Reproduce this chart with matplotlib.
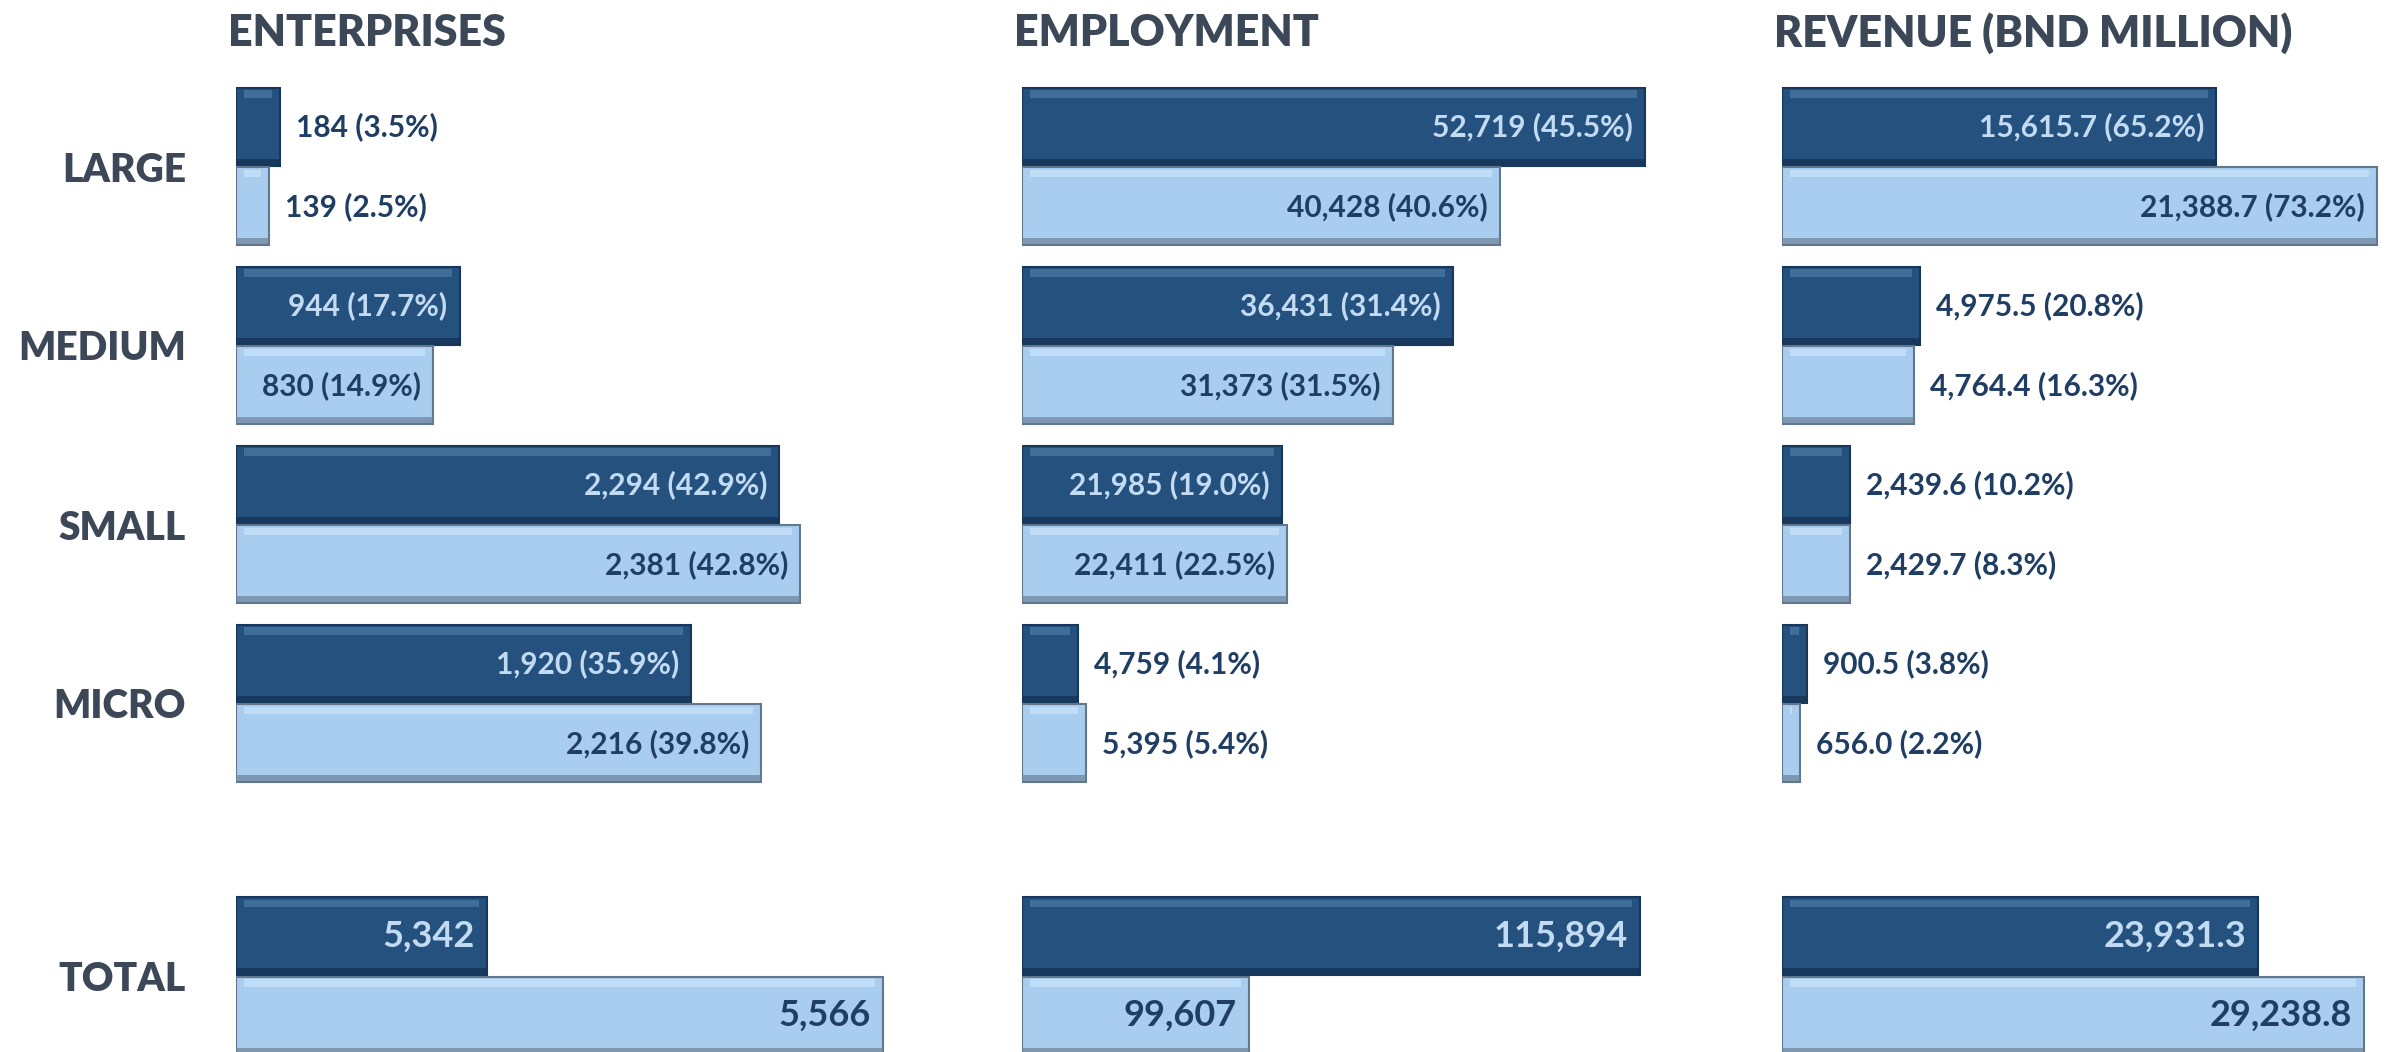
import matplotlib.pyplot as plt

plt.switch_backend('AGG')
plt.rcParams['font.family'] = ['Lato', 'DejaVu Sans']

# ---- data ----
categories = ['LARGE', 'MEDIUM', 'SMALL', 'MICRO']
panel_titles = ['ENTERPRISES', 'EMPLOYMENT', 'REVENUE (BND MILLION)']

ent_dark = [184, 944, 2294, 1920]
ent_dark_pct = [3.5, 17.7, 42.9, 35.9]
ent_light = [139, 830, 2381, 2216]
ent_light_pct = [2.5, 14.9, 42.8, 39.8]

emp_dark = [52719, 36431, 21985, 4759]
emp_dark_pct = [45.5, 31.4, 19.0, 4.1]
emp_light = [40428, 31373, 22411, 5395]
emp_light_pct = [40.6, 31.5, 22.5, 5.4]

rev_dark = [15615.7, 4975.5, 2439.6, 900.5]
rev_dark_pct = [65.2, 20.8, 10.2, 3.8]
rev_light = [21388.7, 4764.4, 2429.7, 656.0]
rev_light_pct = [73.2, 16.3, 8.3, 2.2]

total_dark = [5342, 115894, 23931.3]
total_light = [5566, 99607, 29238.8]
decimals = [0, 0, 1]

# ---- style / layout ----
DARK, DARK_EDGE, DARK_HI, DARK_LO = '#24517e', '#17385a', '#5a86b0', '#143050'
LIGHT, LIGHT_EDGE, LIGHT_HI, LIGHT_LO = '#a9cdef', '#62778c', '#d2ecff', '#6c8298'
NAVY = '#203e63'
PALE = '#c3dbf2'
TITLE = '#3c4858'

W, H = 2388, 1052
col_left = [236, 1022, 1782]
col_width = [700, 700, 606]
cat_xmax = [2955, 59234, 21800]
tot_xlim = [(5200, 5596), (90152, 119307), (0, 30452)]

fig = plt.figure(figsize=(W / 100, H / 100), dpi=100)
renderer = fig.canvas.get_renderer()


def px_axes(left, top, width, height):
    return fig.add_axes([left / W, (H - top - height) / H, width / W, height / H])


def bevel_bar(ax, y, start, value, h, dark, x_per_px):
    face, edge, hi, lo = (DARK, DARK_EDGE, DARK_HI, DARK_LO) if dark else \
        (LIGHT, LIGHT_EDGE, LIGHT_HI, LIGHT_LO)
    ax.barh(y, value - start, left=start, height=h, color=face,
            edgecolor=edge, linewidth=1.5, zorder=2)
    inset = 8 * x_per_px
    # soft highlight along the top, shadow along the bottom
    ax.barh(y - h / 2 + h * 0.08, value - start - 2 * inset, left=start + inset,
            height=h * 0.10, color=hi, linewidth=0, alpha=0.55, zorder=3)
    ax.barh(y + h / 2 - h * 0.05, value - start, left=start,
            height=h * 0.08, color=lo, linewidth=0, alpha=0.7, zorder=3)


def value_label(ax, y, start, value, text, dark, size):
    t = ax.annotate(text, xy=(value, y), xytext=(-12, 0), textcoords='offset pixels',
                    ha='right', va='center', fontsize=size, fontweight='bold',
                    color=PALE if dark else NAVY, zorder=5)
    tw = t.get_window_extent(renderer).width
    x0 = ax.transData.transform((start, 0))[0]
    x1 = ax.transData.transform((value, 0))[0]
    if tw + 24 > x1 - x0:
        t.remove()
        ax.annotate(text, xy=(value, y), xytext=(16, 0), textcoords='offset pixels',
                    ha='left', va='center', fontsize=size, fontweight='bold',
                    color=NAVY, zorder=5)


def clean(ax):
    for s in ax.spines.values():
        s.set_visible(False)
    ax.set_xticks([])
    ax.tick_params(axis='y', length=0, pad=36)


panels = [
    (ent_dark, ent_dark_pct, ent_light, ent_light_pct),
    (emp_dark, emp_dark_pct, emp_light, emp_light_pct),
    (rev_dark, rev_dark_pct, rev_light, rev_light_pct),
]

h = 0.435
off = 0.222
rows = list(range(len(categories)))

for c, (d_vals, d_pct, l_vals, l_pct) in enumerate(panels):
    fmt = '{:,.%df}' % decimals[c]

    # category bars
    ax = px_axes(col_left[c], 77, col_width[c], 716)
    ax.set_xlim(0, cat_xmax[c])
    ax.set_ylim(3.5, -0.5)
    clean(ax)
    if c == 0:
        ax.set_yticks(rows)
        ax.set_yticklabels(categories, fontsize=28, fontweight='heavy', color=TITLE)
    else:
        ax.set_yticks([])
    xpp = cat_xmax[c] / col_width[c]
    for i in rows:
        bevel_bar(ax, i - off, 0, d_vals[i], h, True, xpp)
        bevel_bar(ax, i + off, 0, l_vals[i], h, False, xpp)
    for i in rows:
        value_label(ax, i - off, 0, d_vals[i],
                    fmt.format(d_vals[i]) + ' ({:.1f}%)'.format(d_pct[i]), True, 21.5)
        value_label(ax, i + off, 0, l_vals[i],
                    fmt.format(l_vals[i]) + ' ({:.1f}%)'.format(l_pct[i]), False, 21.5)

    # totals
    axt = px_axes(col_left[c], 886.5, col_width[c], 179)
    lo, hi = tot_xlim[c]
    axt.set_xlim(lo, hi)
    axt.set_ylim(0.5, -0.5)
    clean(axt)
    if c == 0:
        axt.set_yticks([0])
        axt.set_yticklabels(['TOTAL'], fontsize=28, fontweight='heavy', color=TITLE)
    else:
        axt.set_yticks([])
    xpp = (hi - lo) / col_width[c]
    bevel_bar(axt, -off, lo, total_dark[c], h, True, xpp)
    bevel_bar(axt, off, lo, total_light[c], h, False, xpp)
    value_label(axt, -off, lo, total_dark[c], fmt.format(total_dark[c]), True, 26)
    value_label(axt, off, lo, total_light[c], fmt.format(total_light[c]), False, 26)

    fig.text((col_left[c] - 8) / W, 1 - 33 / H, panel_titles[c], ha='left', va='center',
             fontsize=31, fontweight='heavy', color=TITLE)

fig.savefig('out.png', dpi=100, facecolor='white')
